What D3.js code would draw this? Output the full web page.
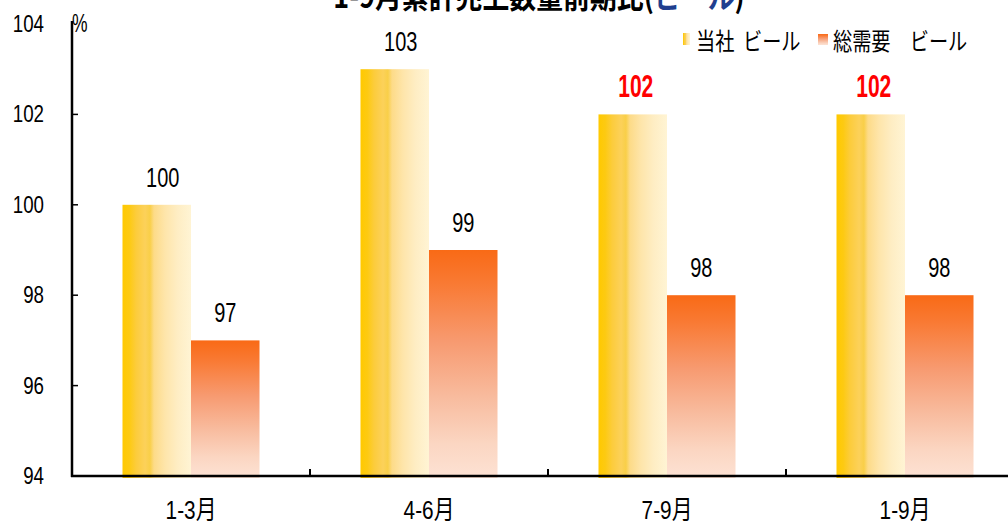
<!DOCTYPE html>
<html>
<head>
<meta charset="utf-8">
<script src="https://cdn.jsdelivr.net/npm/d3@7/dist/d3.min.js"></script>
<style>
  html, body { margin: 0; padding: 0; background: #fff; overflow: hidden; }
  svg { display: block; }
</style>
</head>
<body>
<svg id="chart" width="1008" height="524"></svg>
<script>
// Chart data
const categories = ["1-3月", "4-6月", "7-9月", "1-9月"];
const seriesNames = ["当社 ビール", "総需要　ビール"];
const companyBeer = [100, 103, 102, 102];
const totalDemand = [97, 99, 98, 98];
const highlightCompany = [false, false, true, true];
const yTicks = [94, 96, 98, 100, 102, 104];

const svg = d3.select("#chart");
const W = 1008, H = 524;
const margin = { left: 72, top: 24, bottom: 48 };
const bandStep = 238;

const x = d3.scaleBand()
  .domain(categories)
  .range([margin.left, margin.left + bandStep * categories.length])
  .padding(0);

const xInner = d3.scaleBand()
  .domain(seriesNames)
  .range([0, x.bandwidth()])
  .paddingInner(0)
  .paddingOuter(0.737);

const y = d3.scaleLinear().domain([94, 104]).range([H - margin.bottom, margin.top]);

const FONT = "'Liberation Sans', Arial, 'Noto Sans CJK JP', sans-serif";
const JFONT = "'Noto Sans CJK JP', 'Liberation Sans', sans-serif";

// Gradients
const defs = svg.append("defs");
const gY = defs.append("linearGradient").attr("id", "gradYellow")
  .attr("x1", 0).attr("y1", 0).attr("x2", 1).attr("y2", 0);
[[0, "#FFC900"], [0.1, "#FDCA12"], [0.2, "#FCCC3C"], [0.33, "#FCD15A"],
 [0.4, "#F9CF48"], [0.46, "#FDDB88"], [0.62, "#FEE5AA"], [0.8, "#FEEDC3"], [1, "#FFF4D4"]]
  .forEach(([o, c]) => gY.append("stop").attr("offset", o).attr("stop-color", c));

const gO = defs.append("linearGradient").attr("id", "gradOrange")
  .attr("x1", 0).attr("y1", 0).attr("x2", 0).attr("y2", 1);
[[0, "#F96A16"], [0.15, "#F97A34"], [0.4, "#F79A70"], [0.65, "#F8BC9F"], [0.85, "#FBD6C2"], [1, "#FDE2D4"]]
  .forEach(([o, c]) => gO.append("stop").attr("offset", o).attr("stop-color", c));

// Helper for horizontally condensed text
function label(g, tx, ty, text, size, sx, opts = {}) {
  return g.append("text")
    .attr("transform", `translate(${tx},${ty}) scale(${sx},1)`)
    .attr("text-anchor", opts.anchor || "middle")
    .attr("font-family", opts.family || FONT)
    .attr("font-size", size)
    .attr("font-weight", opts.weight || "normal")
    .attr("fill", opts.fill || "#000")
    .attr("xml:space", "preserve")
    .text(text);
}

// Title (its upper part lies above the drawing area)
const title = svg.append("text")
  .attr("transform", `translate(539,8) scale(0.84,1)`)
  .attr("text-anchor", "middle")
  .attr("font-family", JFONT)
  .attr("font-size", 32)
  .attr("font-weight", "bold")
  .attr("fill", "#000");
title.append("tspan").text("1-9月累計売上数量前期比(");
title.append("tspan").attr("fill", "#1F3F8F").text("ビール");
title.append("tspan").text(")");

// Bars
const data = categories.map((c, i) => ({ c, a: companyBeer[i], b: totalDemand[i], hi: highlightCompany[i] }));
const groups = svg.append("g").selectAll("g").data(data).join("g")
  .attr("transform", d => `translate(${x(d.c)},0)`);

groups.append("rect")
  .attr("x", xInner(seriesNames[0]))
  .attr("width", xInner.bandwidth())
  .attr("y", d => y(d.a))
  .attr("height", d => y(94) - y(d.a) + 2)
  .attr("fill", "url(#gradYellow)");

groups.append("rect")
  .attr("x", xInner(seriesNames[1]))
  .attr("width", xInner.bandwidth())
  .attr("y", d => y(d.b))
  .attr("height", d => y(94) - y(d.b) + 2)
  .attr("fill", "url(#gradOrange)");

// Value labels
groups.each(function(d) {
  const g = d3.select(this);
  const cxA = xInner(seriesNames[0]) + xInner.bandwidth() / 2;
  const cxB = xInner(seriesNames[1]) + xInner.bandwidth() / 2;
  if (d.hi) {
    label(g, cxA + 3, y(d.a) - 17, d.a, 31, 0.68, { weight: "bold", fill: "#FF0000" });
  } else {
    label(g, cxA + 6, y(d.a) - 18, d.a, 27, 0.74);
  }
  label(g, cxB, y(d.b) - 18, d.b, 27, 0.74);
});

// Axes
const axisG = svg.append("g");
axisG.append("line")
  .attr("x1", margin.left).attr("x2", margin.left)
  .attr("y1", y(104) - 3).attr("y2", y(94) + 1)
  .attr("stroke", "#000").attr("stroke-width", 2.5);
axisG.append("line")
  .attr("x1", margin.left - 1).attr("x2", W)
  .attr("y1", y(94)).attr("y2", y(94))
  .attr("stroke", "#000").attr("stroke-width", 2.5);

// Y ticks and labels
yTicks.forEach(t => {
  if (t > 94 && t < 104) {
    axisG.append("line")
      .attr("x1", margin.left).attr("x2", margin.left + 6)
      .attr("y1", y(t)).attr("y2", y(t))
      .attr("stroke", "#000").attr("stroke-width", 1.5);
  }
  label(axisG, 44, y(t) + 8, t, 24, 0.78, { anchor: "end" });
});

// X ticks (category boundaries)
categories.forEach(c => {
  axisG.append("line")
    .attr("x1", x(c)).attr("x2", x(c))
    .attr("y1", y(94)).attr("y2", y(94) - 7)
    .attr("stroke", "#000").attr("stroke-width", 2);
  label(axisG, x(c) + x.bandwidth() / 2, 519, c, 26, 0.8);
});

// Unit label
label(axisG, 72, 32, "%", 25, 0.7, { anchor: "start" });

// Legend
const lg = svg.append("g");
lg.append("rect").attr("x", 683).attr("y", 33).attr("width", 7).attr("height", 12).attr("fill", "url(#gradYellow)");
label(lg, 696, 50, "当社  ビール", 24, 0.8, { anchor: "start", family: JFONT });
lg.append("rect").attr("x", 818).attr("y", 34).attr("width", 10).attr("height", 11).attr("fill", "url(#gradOrange)");
label(lg, 833, 50, seriesNames[1], 24, 0.8, { anchor: "start", family: JFONT });
</script>
</body>
</html>
